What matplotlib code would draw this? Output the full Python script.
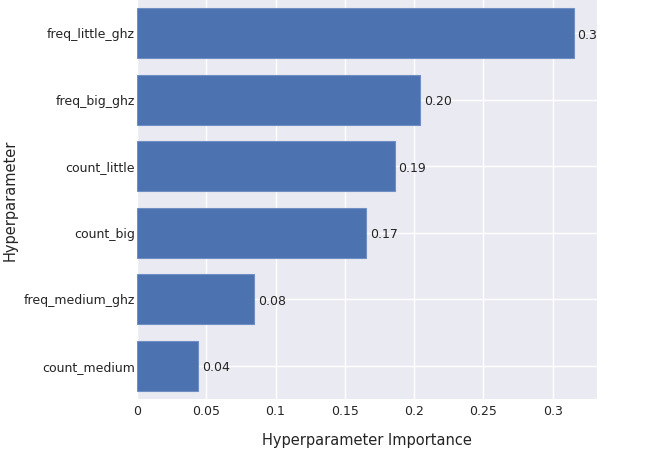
import matplotlib
matplotlib.use("Agg")
import matplotlib.pyplot as plt
import numpy as np

params = ["count_medium", "freq_medium_ghz", "count_big", "count_little",
          "freq_big_ghz", "freq_little_ghz"]
importance = [0.0443, 0.0846, 0.1655, 0.186, 0.2044, 0.3153]
labels = ["0.04", "0.08", "0.17", "0.19", "0.20", "0.32"]
xticks = [0, 0.05, 0.1, 0.15, 0.2, 0.25, 0.3]
xtick_labels = ["0", "0.05", "0.1", "0.15", "0.2", "0.25", "0.3"]

plt.rcParams["font.family"] = ["DejaVu Sans"]
text_color = "#242424"

fig = plt.figure(figsize=(6.46, 4.5), dpi=100)
ax = fig.add_axes([137 / 646, 51 / 450, 460 / 646, 399 / 450])
ax.set_facecolor("#eaeaf2")

y = np.arange(len(params))
ax.barh(y, importance, height=0.75, color="#4c72b0",
        edgecolor="#6f8fc4", linewidth=0.8, zorder=3)

for yi, v, t in zip(y, importance, labels):
    ax.text(v + 0.0025, yi - 0.03, t, va="center", ha="left", fontsize=9,
            color=text_color, clip_on=True, zorder=4)

ax.set_xlim(0, 0.332)
ax.set_ylim(-0.5, len(params) - 0.5)
ax.set_xticks(xticks)
ax.set_xticklabels(xtick_labels)
ax.set_yticks(y)
ax.set_yticklabels(params)
ax.tick_params(axis="both", length=0, labelsize=9, labelcolor=text_color)
ax.tick_params(axis="x", pad=4)
ax.tick_params(axis="y", pad=1.5)
ax.grid(True, color="white", linewidth=1, zorder=0)
for s in ax.spines.values():
    s.set_visible(False)

ax.set_xlabel("Hyperparameter Importance", fontsize=10.5, color=text_color,
              labelpad=11)
ax.set_ylabel("Hyperparameter", fontsize=10.5, color=text_color, va="center")
ax.yaxis.set_label_coords((10 - 137) / 460, (399 - 200) / 399)

fig.savefig("out.png", dpi=100)
